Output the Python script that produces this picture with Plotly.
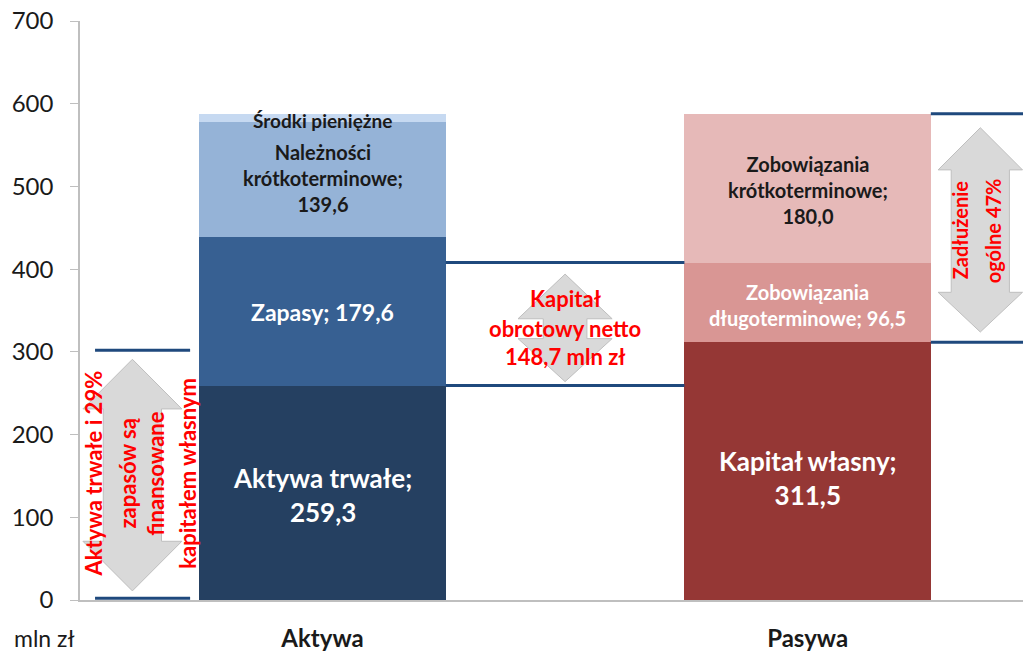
import plotly.graph_objects as go

# ---- data ----
categories = ["Aktywa", "Pasywa"]
aktywa_names = ["Aktywa trwałe", "Zapasy", "Należności krótkoterminowe", "Środki pieniężne"]
aktywa_values = [259.3, 179.6, 139.6, 9.5]
aktywa_colors = ["#254061", "#376092", "#95B3D7", "#C6D9F1"]
pasywa_names = ["Kapitał własny", "Zobowiązania długoterminowe", "Zobowiązania krótkoterminowe"]
pasywa_values = [311.5, 96.5, 180.0]
pasywa_colors = ["#953735", "#D99694", "#E6B9B8"]
y_ticks = [0, 100, 200, 300, 400, 500, 600, 700]

aktywa_text = ["Aktywa trwałe;<br>259,3", "Zapasy; 179,6",
               "Należności<br>krótkoterminowe;<br>139,6", "Środki pieniężne"]
aktywa_text_style = [(26, "white"), (23, "white"), (20, "#1a1a1a"), (19, "#1a1a1a")]
pasywa_text = ["Kapitał własny;<br>311,5", "Zobowiązania<br>długoterminowe; 96,5",
               "Zobowiązania<br>krótkoterminowe;<br>180,0"]
pasywa_text_style = [(26, "white"), (20, "white"), (20, "#1a1a1a")]

FONT = "Lato"
BAR_W = 0.508
LINE_C = "#1F497D"

fig = go.Figure()
for n, v, c in zip(aktywa_names, aktywa_values, aktywa_colors):
    fig.add_trace(go.Bar(x=[0], y=[v], name=n, marker=dict(color=c, line=dict(width=0)),
                         width=BAR_W, hoverinfo="skip", showlegend=False))
for n, v, c in zip(pasywa_names, pasywa_values, pasywa_colors):
    fig.add_trace(go.Bar(x=[1], y=[v], name=n, marker=dict(color=c, line=dict(width=0)),
                         width=BAR_W, hoverinfo="skip", showlegend=False))

annotations = []
def seg_labels(xc, values, texts, styles, offsets):
    base = 0
    for v, t, (fs, col), off in zip(values, texts, styles, offsets):
        annotations.append(dict(x=xc, y=base + v / 2 + off, xref="x", yref="y", text=f"<b>{t}</b>",
                                showarrow=False, font=dict(family=FONT, size=fs, color=col),
                                align="center"))
        base += v

seg_labels(0, aktywa_values, aktywa_text, aktywa_text_style, [-3, -1, 1, -4])
seg_labels(1, pasywa_values, pasywa_text, pasywa_text_style, [-8, -3, -2])

# derived reference levels
a_fixed_top = aktywa_values[0]
p_long_top = pasywa_values[0] + pasywa_values[1]
p_total = sum(pasywa_values)
p_equity = pasywa_values[0]

shapes = []
def hline(x0, x1, y):
    shapes.append(dict(type="line", xref="x", yref="y", x0=x0, x1=x1, y0=y, y1=y,
                       line=dict(color=LINE_C, width=3)))

hline(-0.469, -0.273, 302)
hline(-0.469, -0.273, 2)
hline(0.254, 0.746, p_long_top)
hline(0.254, 0.746, a_fixed_top)
hline(1.254, 1.5, p_total)
hline(1.254, 1.5, p_equity)

def darrow(cx, hw, sw, yt, yht, yhb, yb):
    pts = [(cx, yt), (cx + hw, yht), (cx + sw, yht), (cx + sw, yhb), (cx + hw, yhb), (cx, yb),
           (cx - hw, yhb), (cx - sw, yhb), (cx - sw, yht), (cx - hw, yht)]
    path = "M " + " L ".join(f"{x},{y}" for x, y in pts) + " Z"
    shapes.append(dict(type="path", xref="x", yref="y", path=path,
                       fillcolor="#D9D9D9", line=dict(color="#BFBFBF", width=1)))

darrow(-0.392, 0.102, 0.060, 291, 231, 71, 11)
darrow(0.5, 0.097, 0.045, 394, 340, 316, 264)
darrow(1.356, 0.087, 0.060, 571, 520, 372, 324)

def red(x, y, t, angle=0, size=23):
    annotations.append(dict(x=x, y=y, xref="x", yref="y", text=f"<b>{t}</b>", showarrow=False,
                            textangle=angle, font=dict(family=FONT, size=size, color="#FF0000")))

for xx, t in zip([-0.473, -0.403, -0.345, -0.279],
                 ["Aktywa trwałe i 29%", "zapasów są", "finansowane", "kapitałem własnym"]):
    red(xx, 153, t, -90, 22)
for yy, t in zip([364, 328, 294], ["Kapitał", "obrotowy netto", "148,7 mln zł"]):
    red(0.5, yy, t, 0, 22)
for xx, t in zip([1.314, 1.382], ["Zadłużenie", "ogólne 47%"]):
    red(xx, 447, t, -90, 20)

annotations.append(dict(x=0, y=0, xref="paper", yref="paper", xanchor="left", yanchor="middle",
                        xshift=-68, yshift=-38,
                        text="mln zł", showarrow=False, font=dict(family=FONT, size=23, color="#1a1a1a")))

fig.update_layout(
    barmode="stack",
    width=1023, height=652,
    margin=dict(l=80, r=0, t=21, b=50),
    plot_bgcolor="white", paper_bgcolor="white",
    shapes=shapes, annotations=annotations,
    bargap=0,
    xaxis=dict(range=[-0.5, 1.444], tickvals=[0, 1],
               ticktext=[f"<b>{c}</b>" for c in categories],
               showline=True, linecolor="#BFBFBF", linewidth=1.5, ticks="",
               showgrid=False, zeroline=False, ticklabelstandoff=16,
               tickfont=dict(family=FONT, size=24, color="#1a1a1a")),
    yaxis=dict(range=[0, 700], tickvals=y_ticks, showline=True, linecolor="#BFBFBF", linewidth=1.5,
               ticks="outside", ticklen=8, tickcolor="#BFBFBF", showgrid=False, zeroline=False,
               ticklabelstandoff=12,
               tickfont=dict(family=FONT, size=24, color="#1a1a1a")),
)
fig.write_html("out.html", config={"displayModeBar": False},
               post_script="document.body.style.margin='0';document.body.style.overflow='hidden';")
